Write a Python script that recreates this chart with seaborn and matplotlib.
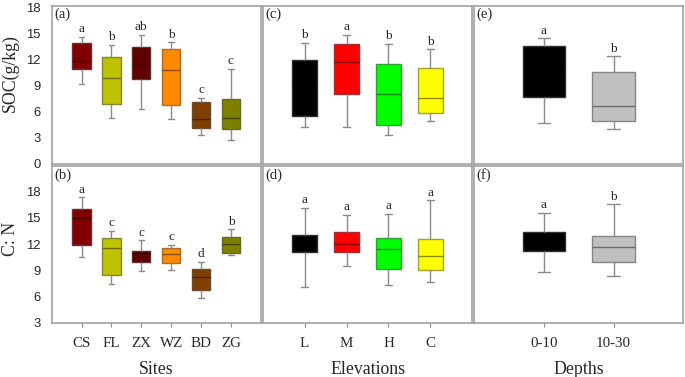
import numpy as np
import pandas as pd
import matplotlib
matplotlib.use("Agg")
import matplotlib.pyplot as plt
import matplotlib.colors as mcolors
import seaborn as sns

# ---------------- data (five-number summaries) ----------------
# order of each entry: [lower whisker, Q1, median, Q3, upper whisker]
sites = ["CS", "FL", "ZX", "WZ", "BD", "ZG"]
site_colors = ["#800000", "#BDC300", "#600000", "#FF8A00", "#7F3F00", "#7F7F00"]
soc_sites = [
    [9.2, 10.9, 11.85, 13.9, 14.6],
    [5.3, 6.92, 9.88, 12.26, 13.7],
    [6.34, 9.77, 11.4, 13.46, 14.9],
    [5.19, 6.77, 10.8, 13.2, 14.0],
    [3.3, 4.1, 5.19, 7.1, 7.58],
    [2.73, 4.0, 5.27, 7.46, 10.9],
]
soc_sites_letters = ["a", "b", "ab", "b", "c", "c"]
cn_sites = [
    [10.49, 11.9, 14.95, 16.05, 17.36],
    [7.43, 8.46, 11.52, 12.66, 13.5],
    [8.92, 9.99, 11.0, 11.2, 12.43],
    [9.07, 9.87, 10.83, 11.6, 11.9],
    [5.86, 6.74, 8.2, 9.11, 9.95],
    [10.75, 10.94, 11.97, 12.81, 13.7],
]
cn_sites_letters = ["a", "c", "c", "c", "d", "b"]

elevations = ["L", "M", "H", "C"]
elev_colors = ["#000000", "#FF0000", "#00FF00", "#FFFF00"]
soc_elev = [
    [4.19, 5.46, 9.0, 12.0, 13.9],
    [4.27, 8.04, 11.76, 13.8, 14.9],
    [3.27, 4.46, 8.04, 11.5, 13.8],
    [4.92, 5.84, 7.57, 11.07, 13.2],
]
soc_elev_letters = ["b", "a", "b", "b"]
cn_elev = [
    [7.12, 11.13, 12.0, 13.04, 16.17],
    [9.53, 11.13, 12.05, 13.35, 15.33],
    [7.28, 9.11, 11.47, 12.66, 15.48],
    [7.7, 9.0, 10.64, 12.58, 17.0],
]
cn_elev_letters = ["a", "a", "a", "a"]

depths = ["0-10", "10-30"]
depth_colors = ["#000000", "#C0C0C0"]
soc_depth = [
    [4.65, 7.69, 10.8, 13.53, 14.45],
    [3.96, 4.92, 6.61, 10.57, 12.38],
]
soc_depth_letters = ["a", "b"]
cn_depth = [
    [8.84, 11.21, 12.5, 13.42, 15.56],
    [8.31, 9.99, 11.67, 12.89, 16.55],
]
cn_depth_letters = ["a", "b"]

soc_ticks = [0, 3, 6, 9, 12, 15, 18]
cn_ticks = [3, 6, 9, 12, 15, 18]

# ---------------- styling ----------------
sns.set_style("white")
plt.rcParams["font.family"] = ["Liberation Serif", "DejaVu Serif"]
SPINE = "#A2A2A2"
WHISK = "#8A8A8A"

W, H = 685, 377
fig = plt.figure(figsize=(W / 100, H / 100), dpi=100)

col_x = [(51.7, 260.7), (262.7, 472.3), (474.3, 683.3)]
row_y = [(5.5, 163.5), (166.0, 322.7)]


def make_ax(col, row):
    x0, x1 = col_x[col]
    y0, y1 = row_y[row]
    return fig.add_axes([x0 / W, (H - y1) / H, (x1 - x0) / W, (y1 - y0) / H])


def mix(c, other, t):
    a = np.array(mcolors.to_rgb(c))
    b = np.array(mcolors.to_rgb(other))
    return tuple(a * (1 - t) + b * t)


def draw(ax, cats, colors, summaries, letters, ylim, yticks, letter, row, col, xlabel=None):
    df = pd.DataFrame(
        [(c, v) for c, s in zip(cats, summaries) for v in s], columns=["cat", "val"]
    )
    sns.boxplot(
        data=df, x="cat", y="val", hue="cat", order=cats, hue_order=cats,
        palette=dict(zip(cats, colors)), legend=False, ax=ax, width=0.61,
        whis=(0, 100), showfliers=False, saturation=1, linewidth=1.0,
        linecolor=WHISK, dodge=False,
    )
    # box edges / medians in darker tones of the fill colour
    for i, p in enumerate(ax.patches[: len(cats)]):
        fc = colors[i]
        p.set_edgecolor(mix(fc, "#555555", 0.55))
        p.set_linewidth(1.0)
    for ln in ax.lines:
        xd = np.asarray(ln.get_xdata(), dtype=float)
        yd = np.asarray(ln.get_ydata(), dtype=float)
        if len(yd) >= 2 and np.allclose(yd, yd[0]):
            span = xd.max() - xd.min()
            idx = int(round(xd.mean()))
            if span > 0.4:
                ln.set_color(mix(colors[idx], "#000000", 0.45))
                ln.set_linewidth(1.0)
                ln.set_zorder(3)
            else:
                c = xd.mean()
                ln.set_xdata([c - 0.09, c + 0.09])
    ax.set_xlim(-1, len(cats))
    ax.set_ylim(*ylim)
    ax.set_yticks(yticks)
    for i, (s, lt) in enumerate(zip(summaries, letters)):
        ax.annotate(lt, (i, s[-1]), xytext=(0, 1.2), textcoords="offset points",
                    ha="center", va="bottom", fontsize=9.5,
                    family=["Liberation Serif"])
    ax.text(0.012, 0.985, f"({letter})", transform=ax.transAxes, ha="left", va="top",
            fontsize=10.5, family=["Liberation Serif"])
    for sp in ax.spines.values():
        sp.set_visible(True)
        sp.set_color(SPINE)
        sp.set_linewidth(1.2)
    ax.set_ylabel("")
    ax.set_xlabel("")
    if col == 0:
        ax.tick_params(axis="y", length=0, pad=8, labelsize=9.4)
        for t in ax.get_yticklabels():
            t.set_family(["Liberation Sans", "DejaVu Sans"])
    else:
        ax.tick_params(axis="y", length=0, labelleft=False)
    if row == 1:
        ax.tick_params(axis="x", length=3, width=0.8, color=WHISK, pad=7, labelsize=10.8,
                       bottom=True)
        ax.set_xticks(range(len(cats)))
        ax.set_xticklabels(cats, family=["Liberation Serif"])
        ax.set_xlabel(xlabel, fontsize=12.8, labelpad=8, family=["Liberation Serif"])
    else:
        ax.tick_params(axis="x", length=0, labelbottom=False)


ax_a = make_ax(0, 0)
draw(ax_a, sites, site_colors, soc_sites, soc_sites_letters, (0, 18.25), soc_ticks, "a", 0, 0)
ax_b = make_ax(0, 1)
draw(ax_b, sites, site_colors, cn_sites, cn_sites_letters, (3, 20.95), cn_ticks, "b", 1, 0, "Sites")
ax_c = make_ax(1, 0)
draw(ax_c, elevations, elev_colors, soc_elev, soc_elev_letters, (0, 18.25), soc_ticks, "c", 0, 1)
ax_d = make_ax(1, 1)
draw(ax_d, elevations, elev_colors, cn_elev, cn_elev_letters, (3, 20.95), cn_ticks, "d", 1, 1, "Elevations")
ax_e = make_ax(2, 0)
draw(ax_e, depths, depth_colors, soc_depth, soc_depth_letters, (0, 18.25), soc_ticks, "e", 0, 2)
ax_f = make_ax(2, 1)
draw(ax_f, depths, depth_colors, cn_depth, cn_depth_letters, (3, 20.95), cn_ticks, "f", 1, 2, "Depths")

ax_a.set_ylabel("SOC(g/kg)", fontsize=12.8, family=["Liberation Serif"])
ax_a.yaxis.set_label_coords(-0.158, 0.57)
ax_b.set_ylabel("C: N", fontsize=12.8, family=["Liberation Serif"])
ax_b.yaxis.set_label_coords(-0.158, 0.534)

fig.savefig("out.png", dpi=100)
